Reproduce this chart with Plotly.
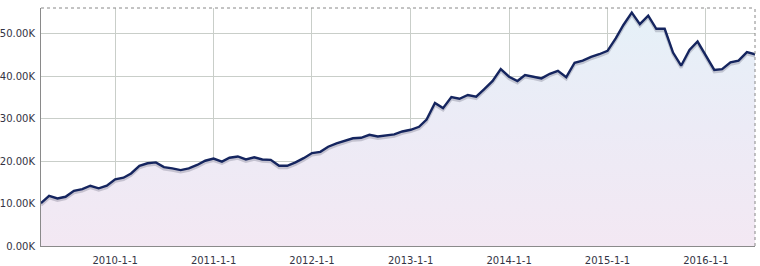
import plotly.graph_objects as go
import pandas as pd

# monthly series, Apr 2009 .. Jul 2016 (values in thousands)
start_month = "2009-04-01"
values_k = [
    10.1, 11.8, 11.2, 11.6, 13.0, 13.4, 14.2, 13.6, 14.2,
    15.7, 16.1, 17.1, 18.9, 19.5, 19.7, 18.6, 18.3, 17.9, 18.3, 19.1, 20.1,
    20.6, 19.9, 20.8, 21.1, 20.4, 20.9, 20.4, 20.3, 18.9, 18.9, 19.7, 20.7,
    21.9, 22.2, 23.4, 24.2, 24.8, 25.4, 25.5, 26.2, 25.8, 26.1, 26.3, 27.0,
    27.4, 28.1, 29.8, 33.7, 32.5, 35.1, 34.7, 35.6, 35.2, 37.0, 38.9, 41.7,
    39.9, 38.9, 40.3, 39.9, 39.5, 40.6, 41.3, 39.8, 43.2, 43.7, 44.6, 45.2,
    46.0, 49.0, 52.1, 55.0, 52.3, 54.3, 51.2, 51.2, 45.6, 42.5, 46.2, 48.2,
    45.0, 41.5, 41.7, 43.3, 43.7, 45.7, 45.2,
]
x_tick_years = [2010, 2011, 2012, 2013, 2014, 2015, 2016]
x_tick_labels = [f"{y}-1-1" for y in x_tick_years]
y_tick_vals = [0, 10000, 20000, 30000, 40000, 50000]
y_tick_labels = ["0.00K", "10.00K", "20.00K", "30.00K", "40.00K", "50.00K"]

dates = pd.date_range(start_month, periods=len(values_k), freq="MS")
values = [v * 1000 for v in values_k]
shadow = [v - 450 for v in values]

fig = go.Figure()
fig.add_trace(go.Scatter(
    x=dates, y=values, mode="lines", line=dict(width=0),
    fill="tozeroy",
    fillgradient=dict(type="vertical", start=0, stop=56000,
                      colorscale=[[0, "#f3e8f3"], [0.5, "#ecebf6"], [1, "#e5f1f8"]]),
    hoverinfo="skip", showlegend=False,
))
fig.add_trace(go.Scatter(
    x=dates, y=shadow, mode="lines",
    line=dict(color="rgba(90,90,110,0.28)", width=3),
    hoverinfo="skip", showlegend=False,
))
fig.add_trace(go.Scatter(
    x=dates, y=values, mode="lines",
    line=dict(color="#15255f", width=2.4),
    showlegend=False,
))

fig.update_layout(
    width=760, height=266,
    margin=dict(l=41, r=5, t=8, b=20),
    paper_bgcolor="white", plot_bgcolor="white",
    font=dict(family="DejaVu Sans", size=10, color="#333344"),
    xaxis=dict(
        range=[dates[0], dates[-1]],
        tickvals=[pd.Timestamp(f"{y}-01-01") for y in x_tick_years],
        ticktext=x_tick_labels,
        showgrid=True, gridcolor="#c9cec9", gridwidth=1,
        showline=True, linecolor="#8a8a8a", linewidth=1,
        ticks="", zeroline=False, ticklabelstandoff=5, automargin=False,
    ),
    yaxis=dict(
        range=[0, 56100],
        tickvals=y_tick_vals, ticktext=y_tick_labels,
        showgrid=True, gridcolor="#c9cec9", gridwidth=1,
        showline=True, linecolor="#8a8a8a", linewidth=1,
        ticks="", zeroline=False, ticklabelstandoff=3, automargin=False,
    ),
    shapes=[
        dict(type="line", xref="paper", yref="paper", x0=0, x1=1, y0=1, y1=1,
             line=dict(color="#888888", width=1, dash="dot")),
        dict(type="line", xref="paper", yref="paper", x0=1, x1=1, y0=0, y1=1,
             line=dict(color="#888888", width=1, dash="dot")),
    ],
)

fig.write_html("out.html")
